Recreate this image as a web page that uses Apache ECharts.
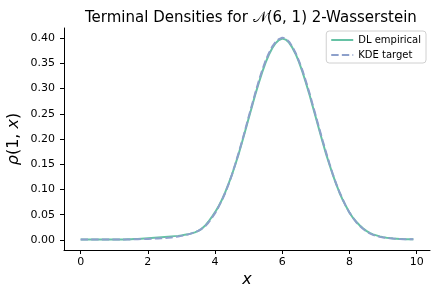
<!DOCTYPE html>
<html><head><meta charset="utf-8">
<script src="https://cdn.jsdelivr.net/npm/echarts@6/dist/echarts.min.js"></script>
<style>html,body{margin:0;padding:0;background:#fff}#c{width:440px;height:296px}</style>
</head><body><div id="c"></div>
<script>
const xValues = [0.0,0.1,0.2,0.3,0.4,0.5,0.6,0.7,0.8,0.9,1.0,1.1,1.2,1.3,1.4,1.5,1.6,1.7,1.8,1.9,2.0,2.1,2.2,2.3,2.4,2.5,2.6,2.7,2.8,2.9,3.0,3.1,3.2,3.3,3.4,3.5,3.6,3.7,3.8,3.9,4.0,4.1,4.2,4.3,4.4,4.5,4.6,4.7,4.8,4.9,5.0,5.1,5.2,5.3,5.4,5.5,5.6,5.7,5.8,5.9,6.0,6.1,6.2,6.3,6.4,6.5,6.6,6.7,6.8,6.9,7.0,7.1,7.2,7.3,7.4,7.5,7.6,7.7,7.8,7.9,8.0,8.1,8.2,8.3,8.4,8.5,8.6,8.7,8.8,8.9,9.0,9.1,9.2,9.3,9.4,9.5,9.6,9.7,9.8,9.9];
const dlEmpirical = [
 0.001,0.001,0.001,0.001,0.001,0.001,0.001,0.001,0.001,0.001,
 0.001,0.001,0.001,0.001,0.0015,0.0015,0.002,0.002,0.0025,0.003,
 0.0035,0.004,0.0045,0.005,0.0055,0.006,0.0065,0.007,0.0075,0.008,
 0.009,0.010,0.011,0.013,0.015,0.018,0.022,0.028,0.036,0.045,
 0.055,0.066,0.079,0.094,0.111,0.129,0.149,0.170,0.193,0.217,
 0.241,0.265,0.289,0.311,0.332,0.351,0.367,0.380,0.390,0.396,
 0.399,0.397,0.391,0.381,0.368,0.352,0.333,0.312,0.290,0.266,
 0.242,0.218,0.194,0.171,0.150,0.130,0.111,0.094,0.079,0.066,
 0.054,0.044,0.036,0.029,0.023,0.018,0.014,0.011,0.009,0.007,
 0.0055,0.0045,0.0037,0.003,0.0025,0.002,0.0017,0.0015,0.0013,0.0012];
const kdeTarget = [
 0.001,0.001,0.001,0.001,0.001,0.001,0.001,0.001,0.001,0.001,
 0.001,0.001,0.001,0.001,0.001,0.001,0.0012,0.0014,0.0016,0.0018,
 0.002,0.0023,0.0026,0.003,0.0034,0.0038,0.0043,0.005,0.0058,0.0068,
 0.008,0.0095,0.011,0.013,0.015,0.018,0.022,0.027,0.034,0.043,
 0.053,0.065,0.078,0.093,0.110,0.129,0.150,0.172,0.195,0.219,
 0.244,0.268,0.292,0.315,0.336,0.355,0.370,0.383,0.392,0.398,
 0.401,0.399,0.393,0.383,0.370,0.354,0.336,0.315,0.293,0.269,
 0.245,0.221,0.197,0.174,0.152,0.131,0.112,0.095,0.080,0.066,
 0.054,0.044,0.035,0.028,0.022,0.017,0.013,0.010,0.008,0.006,
 0.005,0.004,0.0033,0.0027,0.0022,0.0018,0.0015,0.0013,0.0012,0.0011];
const xTicks = [0,2,4,6,8,10];
const yTicks = [0,0.05,0.10,0.15,0.20,0.25,0.30,0.35,0.40];
const seriesNames = ['DL empirical','KDE target'];

const font = 'DejaVu Sans';
const chart = echarts.init(document.getElementById('c'), null, {renderer:'canvas'});
const axisLineStyle = {color:'#000', width:1};
chart.setOption({
  animation:false,
  title:{text:'Terminal Densities for \uD835\uDCA9(6, 1) 2-Wasserstein', left:80, top:6,
    textStyle:{fontFamily:font, fontSize:15, fontWeight:'normal', color:'#000'}},
  legend:{data:seriesNames, orient:'vertical', right:14, top:31, itemWidth:22, itemHeight:8, itemGap:5,
    borderColor:'#d0d0d0', borderWidth:1, borderRadius:3, padding:[4,5,3,4],
    itemStyle:{opacity:0},
    textStyle:{fontFamily:font, fontSize:10, color:'#000'}},
  grid:{left:64, right:10, top:28, bottom:46, outerBoundsMode:'none', containLabel:false},
  xAxis:{type:'value', min:-0.495, max:10.395,
    name:'x', nameLocation:'middle', nameGap:22, nameMoveOverlap:false,
    nameTextStyle:{fontFamily:font, fontSize:16, fontStyle:'italic', color:'#000'},
    axisLine:{show:true, onZero:false, lineStyle:axisLineStyle},
    axisTick:{show:true, customValues:xTicks, length:4, lineStyle:axisLineStyle},
    axisLabel:{customValues:xTicks, fontFamily:font, fontSize:11, color:'#000', margin:7},
    splitLine:{show:false}},
  yAxis:{type:'value', min:-0.02, max:0.42,
    name:'{i|\u03C1}(1, {i|x})', nameLocation:'middle', nameGap:42, nameRotate:90, nameMoveOverlap:false,
    nameTextStyle:{fontFamily:font, fontSize:16, color:'#000', rich:{i:{fontFamily:font, fontSize:16, fontStyle:'italic'}}},
    axisLine:{show:true, onZero:false, lineStyle:axisLineStyle},
    axisTick:{show:true, customValues:yTicks, length:4, lineStyle:axisLineStyle},
    axisLabel:{customValues:yTicks, fontFamily:font, fontSize:11, color:'#000', margin:9,
      formatter:v=>v.toFixed(2)},
    splitLine:{show:false}},
  series:[
    {name:seriesNames[0], type:'line', showSymbol:false, symbol:'none',
     data:xValues.map((x,i)=>[x,dlEmpirical[i]]),
     lineStyle:{color:'#66c2a5', width:2}, itemStyle:{color:'#66c2a5'}},
    {name:seriesNames[1], type:'line', showSymbol:false, symbol:'none',
     data:xValues.map((x,i)=>[x,kdeTarget[i]]),
     lineStyle:{color:'#8da0cb', width:2, type:[7.4,3.2]}, itemStyle:{color:'#8da0cb'}}
  ]
});
</script></body></html>
